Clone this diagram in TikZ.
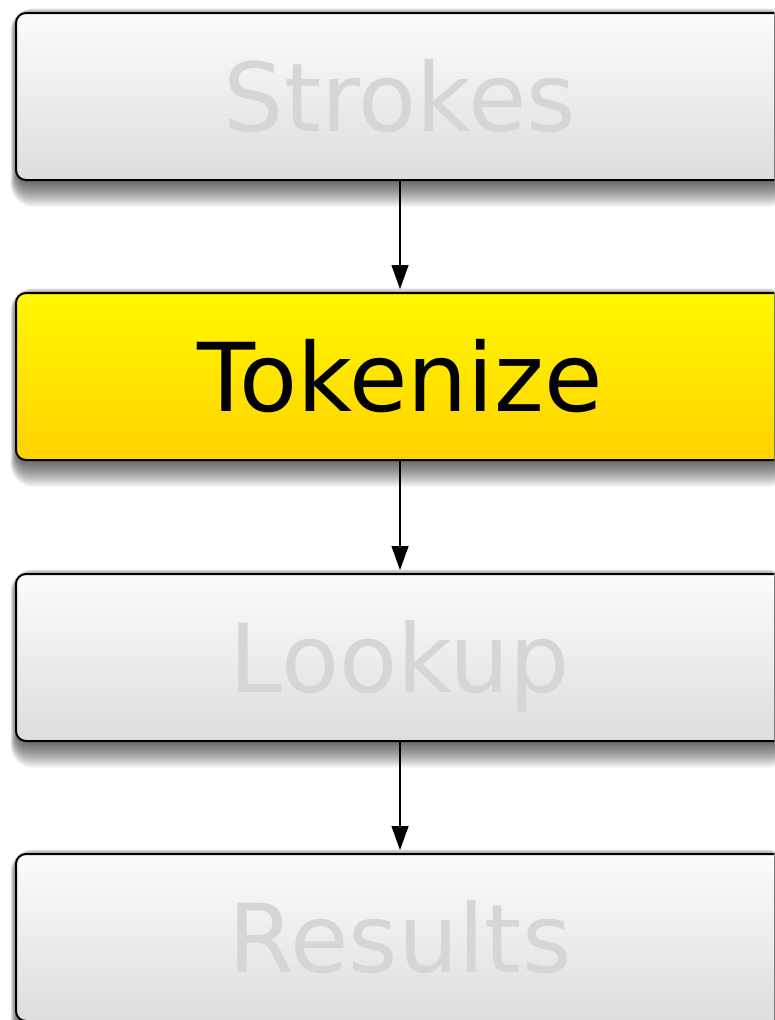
\documentclass[tikz,border=0pt]{standalone}
\usepackage{fontspec}
\setmainfont{DejaVu Sans}
\usetikzlibrary{arrows.meta,backgrounds}

\definecolor{stagetext}{HTML}{D6D6D6}
\definecolor{grayTop}{HTML}{FCFCFC}
\definecolor{grayBot}{HTML}{DDDDDD}
\definecolor{yellowTop}{HTML}{FFF800}
\definecolor{yellowBot}{HTML}{FFD200}

\tikzset{
  stage/.style={draw=black, line width=2pt, rounded corners=10pt,
    minimum width=768pt, minimum height=167pt, inner sep=0pt,
    text height=69pt, text depth=0pt,
    font=\fontsize{95pt}{100pt}\selectfont,
    top color=grayTop, bottom color=grayBot, text=stagetext},
  active/.style={top color=yellowTop, bottom color=yellowBot, text=black},
  flow/.style={line width=1.3pt, -{Triangle[length=24pt,width=17pt]}, shorten >=3pt}
}

\begin{document}
\begin{tikzpicture}[x=1pt,y=-1pt]
  \useasboundingbox (0,0) rectangle (774,1020);
  \clip (0,0) rectangle (774,1020);

  % pipeline stages
  \node[stage]         (strokes)  at (400,96.5)  {Strokes};
  \node[stage,active]  (tokenize) at (400,376.5) {Tokenize};
  \node[stage]         (lookup)   at (400,657.5) {Lookup};
  \node[stage]         (results)  at (400,937.5) {Results};

  % soft drop shadows: stacked translucent outlines that grow mostly downwards
  \begin{scope}[on background layer]
    \foreach \b in {strokes,tokenize,lookup,results}{
      \foreach \r [evaluate=\r as \rc using 10+0.5*\r,
                   evaluate=\r as \dx using 0.25*\r-2,
                   evaluate=\r as \dt using 0.3*\r-4] in {0,1,...,26}{
        \fill[black, opacity=0.033, rounded corners=\rc pt]
          ([xshift=-\dx pt, yshift=-\r pt]\b.south west) rectangle
          ([xshift=\dx pt, yshift=\dt pt]\b.north east);
      }
    }
  \end{scope}

  % connectors
  \draw[flow] (strokes.south)  -- (tokenize.north);
  \draw[flow] (tokenize.south) -- (lookup.north);
  \draw[flow] (lookup.south)   -- (results.north);
\end{tikzpicture}
\end{document}
